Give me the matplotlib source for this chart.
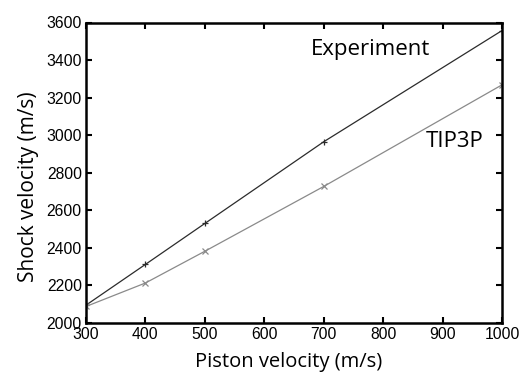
import matplotlib
matplotlib.use('Agg')
from matplotlib import pyplot as plt

# data
piston = [300, 400, 500, 700, 1000]
experiment = [2095, 2312, 2530, 2965, 3557]
tip3p = [2088, 2213, 2382, 2727, 3268]

xticks = [300, 400, 500, 600, 700, 800, 900, 1000]
yticks = [2000, 2200, 2400, 2600, 2800, 3000, 3200, 3400, 3600]

fig = plt.figure(figsize=(5.25, 3.73), dpi=100)
ax = fig.add_axes([86/525, 1 - 323/373, (502-86)/525, (323-22.5)/373])

ax.plot(piston, experiment, color='#2b2b2b', lw=0.9, marker='+', ms=4, mew=0.9)
ax.plot(piston, tip3p, color='#8a8a8a', lw=0.9, marker='x', ms=4, mew=0.9)

ax.set_xlim(300, 1000)
ax.set_ylim(2000, 3600)
ax.set_xticks(xticks)
ax.set_yticks(yticks)
ax.tick_params(direction='in', top=True, right=True, length=4, width=1.5,
               labelsize=11.3, pad=3)
for lab in ax.get_xticklabels() + ax.get_yticklabels():
    lab.set_family('Liberation Sans')
for s in ax.spines.values():
    s.set_linewidth(1.8)

ax.set_xlabel('Piston velocity (m/s)', family='Open Sans', fontsize=14.5)
ax.set_ylabel('Shock velocity (m/s)', family='Open Sans', fontsize=15)
ax.xaxis.set_label_coords(0.487, -0.095)
ax.yaxis.set_label_coords(-0.113, 0.452)

ax.text(778, 3455, 'Experiment', family='Open Sans', fontsize=16, ha='center', va='center')
ax.text(921, 2968, 'TIP3P', family='Open Sans', fontsize=16, ha='center', va='center')

plt.savefig('out.png', dpi=100)
